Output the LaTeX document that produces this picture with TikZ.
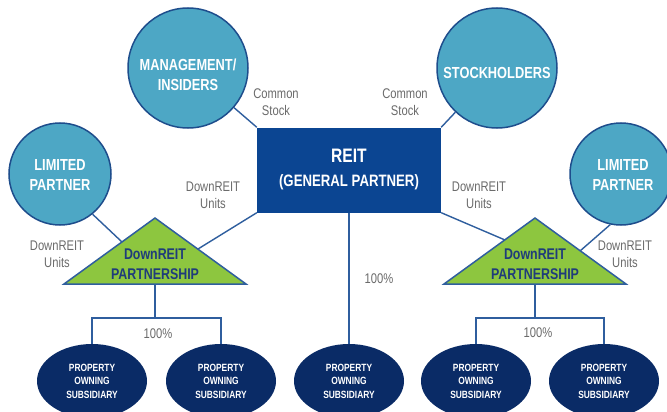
\documentclass[tikz,border=0pt]{standalone}
\usepackage{fontspec}
\setmainfont{Liberation Sans}
\newfontfamily\cond{Liberation Sans}[FakeStretch=0.8]
\usetikzlibrary{shapes.geometric}
\definecolor{circFill}{HTML}{4DA7C5}
\definecolor{circBorder}{HTML}{1E4D8C}
\definecolor{boxFill}{HTML}{0B4592}
\definecolor{triFill}{HTML}{8DC63F}
\definecolor{triText}{HTML}{1F3C7A}
\definecolor{navy}{HTML}{0A2B66}
\definecolor{lineC}{HTML}{2F5E9E}
\definecolor{labelC}{HTML}{6B6B6B}
\begin{document}
\begin{tikzpicture}[x=1pt,y=-1pt,
  bluecirc/.style={circle, draw=circBorder, line width=1.5pt, fill=circFill, minimum size=120pt, inner sep=0pt},
  circtext/.style={text=white, font=\cond\bfseries\fontsize{16}{19.5}\selectfont, align=center, inner sep=0pt},
  reitbox/.style={rectangle, fill=boxFill, minimum width=184pt, minimum height=85pt, inner sep=0pt},
  reittext/.style={text=white, font=\cond\bfseries\fontsize{16.5}{24}\selectfont, align=center, inner sep=0pt},
  tri/.style={fill=triFill, draw=lineC, line width=1.5pt, line join=miter},
  tritext/.style={text=triText, font=\cond\bfseries\fontsize{15.5}{20}\selectfont, align=center, inner sep=0pt},
  subs/.style={ellipse, fill=navy, minimum width=110pt, minimum height=74pt, inner sep=0pt, text=white, font=\cond\bfseries\fontsize{10.5}{13.5}\selectfont, align=center},
  conn/.style={draw=lineC, line width=1.4pt},
  lbl/.style={text=labelC, font=\cond\fontsize{14}{16.7}\selectfont, align=center, inner sep=0pt}]
\useasboundingbox (0,0) rectangle (667,412);
\fill[white] (0,0) rectangle (667,412);

\coordinate (tLa) at (122,242);
\coordinate (tLb) at (198,249);
\coordinate (tRa) at (505,240);
\coordinate (tRb) at (580,251);
\coordinate (triLb) at (155,284);
\coordinate (triRb) at (535,284);

% circles
\node[bluecirc] (mgmt) at (188,68) {};
\node[circtext] (mgmtT) at (188,75) {MANAGEMENT/\\INSIDERS};
\node[bluecirc] (stock) at (497,68) {};
\node[circtext] (stockT) at (497,73) {STOCKHOLDERS};
\node[bluecirc, minimum size=102pt] (lpL) at (60,174) {};
\node[circtext] (lpLT) at (60,175) {LIMITED\\PARTNER};
\node[bluecirc, minimum size=102pt] (lpR) at (621,174) {};
\node[circtext] (lpRT) at (623,175) {LIMITED\\PARTNER};

% REIT box
\node[reitbox] (reit) at (349,170) {};
\node[reittext] (reitT) at (349,170) {{\fontsize{19.5}{24}\selectfont REIT}\\(GENERAL PARTNER)};

% lines
\draw[conn] (mgmt) -- (reit.north west);
\draw[conn] (stock) -- (reit.north east);
\draw[conn] (lpL.-51) -- (tLa);
\draw[conn] (reit.south west) -- (tLb);
\draw[conn] (reit.south east) -- (tRa);
\draw[conn] (lpR.-102) -- (tRb);

% triangles
\path[tri] (64,284) -- (155,218) -- (246,284) -- cycle;
\path[tri] (444,284) -- (535,218) -- (626,284) -- cycle;
\node[tritext] (triL) at (155,264) {DownREIT\\PARTNERSHIP};
\node[tritext] (triR) at (535,264) {DownREIT\\PARTNERSHIP};

% subsidiaries
\node[subs] (s1) at (92,381) {PROPERTY\\OWNING\\SUBSIDIARY};
\node[subs] (s2) at (221,381) {PROPERTY\\OWNING\\SUBSIDIARY};
\node[subs] (s3) at (349,381) {PROPERTY\\OWNING\\SUBSIDIARY};
\node[subs] (s4) at (476,381) {PROPERTY\\OWNING\\SUBSIDIARY};
\node[subs] (s5) at (604,381) {PROPERTY\\OWNING\\SUBSIDIARY};

\draw[conn] (triLb) -- ++(0,34) coordinate (bL);
\draw[conn] (s1.north) |- (bL) -| (s2.north);
\draw[conn] (triRb) -- ++(0,34) coordinate (bR);
\draw[conn] (s4.north) |- (bR) -| (s5.north);
\draw[conn] (reit.south) -- (s3.north);

% labels
\node[lbl] (cs1) at (276,102) {Common\\Stock};
\node[lbl] (cs2) at (405,102) {Common\\Stock};
\node[lbl] (du1) at (213,195) {DownREIT\\Units};
\node[lbl] (du2) at (57,254) {DownREIT\\Units};
\node[lbl] (du3) at (479,195) {DownREIT\\Units};
\node[lbl] (du4) at (625,254) {DownREIT\\Units};
\node[lbl] (p1) at (158,334) {100\%};
\node[lbl] (p2) at (379,279) {100\%};
\node[lbl] (p3) at (538,333) {100\%};
\end{tikzpicture}
\end{document}
